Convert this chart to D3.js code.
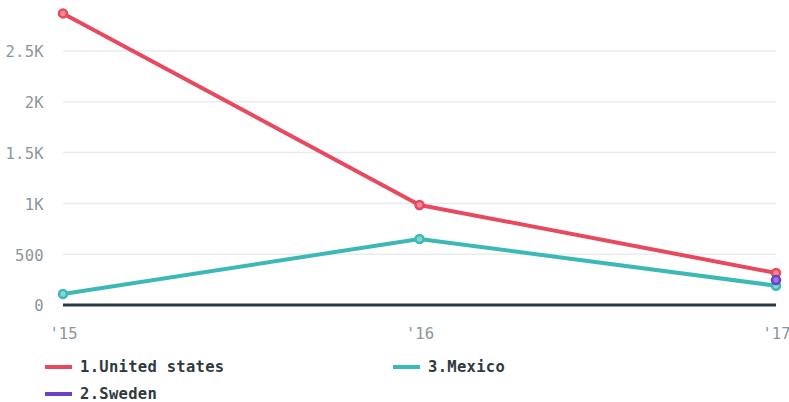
<!DOCTYPE html>
<html><head><meta charset="utf-8">
<script src="https://cdn.jsdelivr.net/npm/d3@7"></script>
<style>body{margin:0;background:#fff;}svg{display:block;}</style>
</head><body>
<svg id="c" width="789" height="402"></svg>
<script>
const years = ["'15", "'16", "'17"];
const yTicks = [0, 500, 1000, 1500, 2000, 2500];
const seriesNames = ["1.United states", "2.Sweden", "3.Mexico"];
const unitedStates = [2870, 985, 315];
const sweden = [null, null, 245];
const mexico = [108, 650, 190];
const colors = ["#e8495f", "#6b3fc7", "#3cb9b6"];
const lightColors = ["#f28a98", "#9a7ada", "#86d6d3"];

const series = [
  {name: seriesNames[0], values: unitedStates, color: colors[0], light: lightColors[0]},
  {name: seriesNames[1], values: sweden, color: colors[1], light: lightColors[1]},
  {name: seriesNames[2], values: mexico, color: colors[2], light: lightColors[2]}
];

const svg = d3.select("#c");
const font = "'DejaVu Sans Mono', monospace";
const x = d3.scalePoint().domain(years).range([63, 776]);
const y = d3.scaleLinear().domain([0, 2500]).range([305, 51]);

const fmt = v => v === 0 ? "0" : v >= 1000 ? (v/1000) + "K" : String(v);

// grid
svg.append("g").selectAll("line").data(yTicks.filter(d => d > 0)).join("line")
  .attr("x1", 63).attr("x2", 776)
  .attr("y1", d => y(d)).attr("y2", d => y(d))
  .attr("stroke", "#e9ecec").attr("stroke-width", 1.5);

// y axis
const ya = svg.append("g").attr("transform", "translate(47,1)")
  .call(d3.axisLeft(y).tickValues(yTicks).tickFormat(fmt).tickSize(0));
ya.select(".domain").remove();
ya.selectAll("text").attr("fill", "#8b969b").attr("font-family", font).attr("font-size", 15.5).attr("dx", 0).attr("letter-spacing", 0.3);

// x axis
const xa = svg.append("g").attr("transform", "translate(0,325)")
  .call(d3.axisBottom(x).tickSize(0));
xa.select(".domain").remove();
xa.selectAll("text").attr("fill", "#8b969b").attr("font-family", font).attr("font-size", 15.5).attr("dy", "0.71em");

// zero line
svg.append("line").attr("x1", 63).attr("x2", 776).attr("y1", y(0)).attr("y2", y(0))
  .attr("stroke", "#2c3b42").attr("stroke-width", 3);

const line = d3.line().defined(d => d.v != null).x(d => x(d.k)).y(d => y(d.v));

const order = [series[0], series[2], series[1]];
order.forEach(s => {
  const pts = s.values.map((v, i) => ({k: years[i], v}));
  svg.append("path").datum(pts).attr("d", line).attr("fill", "none")
    .attr("stroke", s.color).attr("stroke-width", 4).attr("stroke-linejoin", "round");
});
order.forEach(s => {
  const pts = s.values.map((v, i) => ({k: years[i], v})).filter(d => d.v != null);
  svg.append("g").selectAll("circle").data(pts).join("circle")
    .attr("cx", d => x(d.k)).attr("cy", d => y(d.v)).attr("r", 4)
    .attr("fill", s.light).attr("stroke", s.color).attr("stroke-width", 2.5);
});

// legend
const legendPos = [[45, 367], [45, 394], [393, 367]];
series.forEach((s, i) => {
  const [lx, ly] = legendPos[i];
  const g = svg.append("g").attr("transform", `translate(${lx},${ly})`);
  g.append("line").attr("x1", 0).attr("x2", 27).attr("y1", 0).attr("y2", 0)
    .attr("stroke", s.color).attr("stroke-width", 4);
  g.append("text").attr("x", 35).attr("y", 0).attr("dy", "0.35em")
    .attr("font-family", font).attr("font-size", 15.5).attr("font-weight", "bold")
    .attr("letter-spacing", 0.3)
    .attr("fill", "#2e3a40").text(s.name);
});
</script>
</body></html>
